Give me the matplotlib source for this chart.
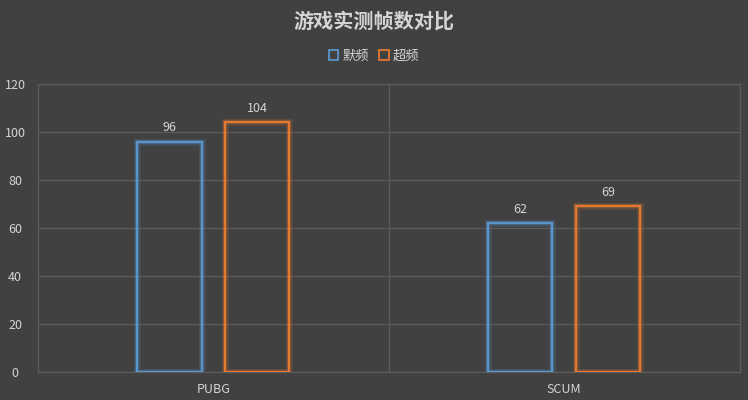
import numpy as np
import matplotlib
matplotlib.use('Agg')
import matplotlib.pyplot as plt
import matplotlib.patheffects as pe
from matplotlib.patches import Patch

plt.rcParams['font.family'] = ['Noto Sans CJK SC', 'DejaVu Sans']

games = ['PUBG', 'SCUM']
default_fps = [96, 62]
oc_fps = [104, 69]
series_names = ['默频', '超频']
title = '游戏实测帧数对比'

bg = '#414141'
grid_c = '#5c5c5c'
text_c = '#d4d4d4'
blue = '#5b9bd5'
orange = '#ed7d31'

fig = plt.figure(figsize=(7.48, 4.0), dpi=100, facecolor=bg)
ax = fig.add_axes([0.0508, 0.07, 0.938, 0.72], facecolor=bg)

x = np.arange(len(games))
w = 0.183
off = 0.125


def glow_bars(xs, vals, color):
    bars = ax.bar(xs, vals, w, facecolor='none', edgecolor=color, linewidth=1.3, zorder=3)
    for b in bars:
        b.set_path_effects([
            pe.Stroke(linewidth=5, foreground=color, alpha=0.15),
            pe.Stroke(linewidth=3, foreground=color, alpha=0.3),
            pe.Normal(),
        ])
    for xi, v in zip(xs, vals):
        ax.text(xi, v + 3, str(v), ha='center', va='bottom', color=text_c, fontsize=9)
    return bars


glow_bars(x - off, default_fps, blue)
glow_bars(x + off, oc_fps, orange)

ax.set_xlim(-0.5, 1.5)
ax.set_ylim(0, 120)
ax.set_yticks(np.arange(0, 121, 20))
ax.set_xticks(x)
ax.set_xticklabels(games)
ax.grid(axis='y', color=grid_c, linewidth=0.9, zorder=0)
ax.axvline(0.5, color=grid_c, linewidth=0.9, zorder=0)
for s in ax.spines.values():
    s.set_color(grid_c)
    s.set_linewidth(0.9)
ax.tick_params(axis='both', length=0, colors=text_c, labelsize=9)
ax.tick_params(axis='x', pad=8)
for lab in ax.get_yticklabels():
    lab.set_horizontalalignment('center')
ax.yaxis.set_tick_params(pad=16.5)

fig.text(0.5, 0.948, title, ha='center', va='center', color=text_c,
         fontsize=14.5, fontweight='bold')

handles = [Patch(facecolor='none', edgecolor=blue, linewidth=1.2),
           Patch(facecolor='none', edgecolor=orange, linewidth=1.2)]
fig.legend(handles, series_names, loc='center', bbox_to_anchor=(0.5, 0.86), ncol=2,
           frameon=False, fontsize=9.5, labelcolor=text_c, handlelength=0.7,
           handleheight=0.7, handletextpad=0.3, columnspacing=0.8)

fig.savefig('out.png', dpi=100, facecolor=bg)
